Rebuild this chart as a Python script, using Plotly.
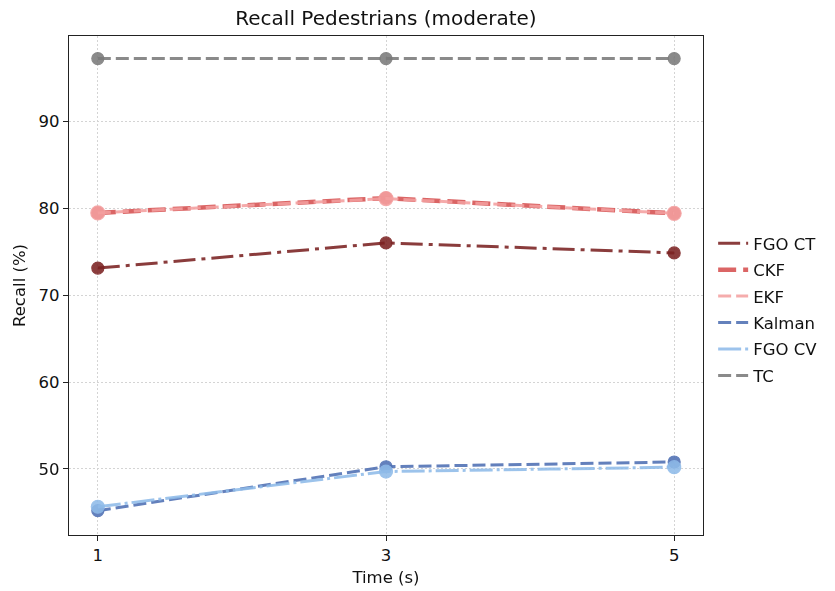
import plotly.graph_objects as go

# Prediction horizons (seconds)
time_s = [1, 3, 5]

# Recall (%) per tracker
fgo_ct = [73.1, 76.0, 74.85]
ckf = [79.45, 81.15, 79.4]
ekf = [79.45, 81.1, 79.4]
kalman = [45.2, 50.25, 50.8]
fgo_cv = [45.65, 49.7, 50.2]
tc = [97.2, 97.2, 97.2]

series = [
    # name, values, colour, dash, line width, marker size, legend rank
    ("TC", tc, "#7a7a7a", "13px,5px", 3.0, 12, 6),
    ("FGO CT", fgo_ct, "#7b2222", "22px,6px,4px,6px", 3.0, 12, 1),
    ("CKF", ckf, "#d65050", "18px,7px", 4.5, 12, 2),
    ("EKF", ekf, "#f4a0a0", "13px,5px", 3.0, 14, 3),
    ("Kalman", kalman, "#4e6fb3", "13px,5px", 3.0, 12, 4),
    ("FGO CV", fgo_cv, "#8fbbe9", "23px,4px,3px,4px", 3.0, 13, 5),
]

fig = go.Figure()
for name, vals, color, dash, width, msize, rank in series:
    fig.add_trace(go.Scatter(
        x=time_s, y=vals, mode="lines", name=name,
        line=dict(color=color, dash=dash, width=width),
        opacity=0.88, legendgroup=name, legendrank=rank,
    ))
    fig.add_trace(go.Scatter(
        x=time_s, y=vals, mode="markers", name=name,
        marker=dict(color=color, size=msize, line=dict(color=color, width=1.2)),
        opacity=0.88, legendgroup=name, showlegend=False,
    ))

axis_common = dict(
    showline=True, linecolor="#222", linewidth=1.2, mirror=True,
    ticks="outside", ticklen=5, tickwidth=1.2, tickcolor="#222",
    showgrid=True, gridcolor="#d4d4d4", griddash="2px,2px", gridwidth=1,
    zeroline=False, tickfont=dict(size=16.5, color="#111"), automargin=False,
)

fig.update_layout(
    width=835, height=591,
    margin=dict(l=69, r=132, t=36, b=56),
    paper_bgcolor="white", plot_bgcolor="white",
    font=dict(family="DejaVu Sans", color="#111"),
    title=dict(text="Recall Pedestrians (moderate)", x=(69 + 703) / 2 / 835,
               xanchor="center", y=1 - 18 / 591, yanchor="middle",
               font=dict(size=20)),
    xaxis=dict(range=[0.8, 5.2], tickvals=time_s, ticktext=["1", "3", "5"],
               title=dict(text="Time (s)", font=dict(size=16.5), standoff=7),
               **axis_common),
    yaxis=dict(range=[42.4, 99.8], tickvals=[50, 60, 70, 80, 90],
               title=dict(text="Recall (%)", font=dict(size=16.5), standoff=8),
               **axis_common),
    legend=dict(x=1.016, y=0.452, xanchor="left", yanchor="middle",
                font=dict(size=16.5), bgcolor="rgba(0,0,0,0)",
                tracegroupgap=2, itemwidth=30),
)

fig.write_html("out.html")
